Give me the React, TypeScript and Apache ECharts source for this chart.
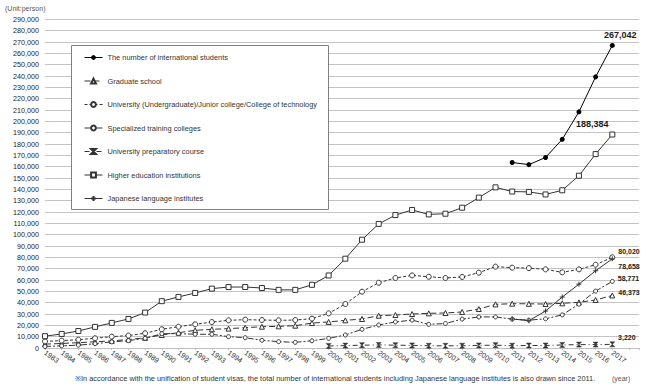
import React, { useEffect, useRef } from 'react';
import * as echarts from 'echarts';

const years = [1983, 1984, 1985, 1986, 1987, 1988, 1989, 1990, 1991, 1992, 1993, 1994, 1995, 1996, 1997, 1998, 1999, 2000, 2001, 2002, 2003, 2004, 2005, 2006, 2007, 2008, 2009, 2010, 2011, 2012, 2013, 2014, 2015, 2016, 2017];

const totalStudents = [null, null, null, null, null, null, null, null, null, null, null, null, null, null, null, null, null, null, null, null, null, null, null, null, null, null, null, null, 163697, 161848, 168145, 184155, 208379, 239287, 267042];
const graduateSchool = [3400, 4000, 4700, 5500, 6300, 7500, 9000, 11500, 13500, 15600, 16500, 17100, 17900, 18800, 19100, 19700, 22000, 23000, 24400, 25600, 28500, 29100, 30000, 30600, 30900, 31800, 34400, 38500, 39100, 39000, 38800, 39400, 40300, 42400, 46373];
const university = [5800, 6500, 7300, 8600, 10000, 11000, 13000, 16500, 18800, 20900, 22900, 24400, 25000, 24700, 24400, 24700, 25900, 30600, 38800, 49700, 57600, 61800, 64100, 62900, 61800, 62700, 66500, 71800, 70900, 70500, 69400, 66800, 69400, 73500, 80020];
const specialized = [1300, 1900, 2500, 3800, 5400, 6500, 8500, 12600, 12700, 12100, 12100, 10000, 9100, 6800, 5600, 5000, 6400, 8500, 11500, 16500, 20300, 23000, 24600, 20900, 21600, 25500, 27400, 27400, 25463, 24586, 25753, 29227, 38654, 50235, 58771];
const preparatory = [null, null, null, null, null, null, null, null, null, null, null, null, null, null, null, null, null, 1800, 2100, 2500, 2700, 2500, 2300, 2000, 1900, 2000, 2300, 2500, 2000, 2200, 2200, 2700, 3000, 3000, 3220];
const higherEducation = [10428, 12410, 15009, 18631, 22154, 25643, 31251, 41347, 45066, 48561, 52405, 53787, 53847, 52921, 51298, 51298, 55755, 64011, 78812, 95550, 109508, 117302, 121812, 117927, 118498, 123829, 132720, 141774, 138075, 137756, 135519, 139185, 152062, 171122, 188384];
const japaneseLanguage = [null, null, null, null, null, null, null, null, null, null, null, null, null, null, null, null, null, null, null, null, null, null, null, null, null, null, null, null, 25622, 24092, 32626, 44970, 56317, 68165, 78658];

const seriesNames = [
  'The number of international students',
  'Graduate school',
  'University (Undergraduate)/Junior college/College of technology',
  'Specialized training colleges',
  'University preparatory course',
  'Higher education institutions',
  'Japanese language institutes',
];

const footnote = '※In accordance with the unification of student visas, the total number of international students including Japanese language institutes is also drawn since 2011.';

const FONT = '"Liberation Sans", Arial, sans-serif';
const fmt = (v: number) => v.toLocaleString('en-US');

function buildData(vals: (number | null)[], lastLabel: any) {
  const pts: any[] = [];
  vals.forEach((v, i) => {
    if (v != null) pts.push({ value: [years[i], v] });
  });
  if (lastLabel && pts.length) {
    const last = pts[pts.length - 1];
    last.label = {
      show: true,
      formatter: () => fmt(last.value[1]),
      fontFamily: FONT,
      fontWeight: 'bold',
      color: '#1a1a1a',
      ...lastLabel,
    };
  }
  return pts;
}

export default function App() {
  const ref = useRef<HTMLDivElement>(null);
  useEffect(() => {
    if (!ref.current) return;
    const chart = echarts.init(ref.current, undefined, { renderer: 'svg' });
    const dark = '#333333';
    const hollow = (c: string) => ({ color: '#ffffff', borderColor: c, borderWidth: 1 });
    const smallLbl = { position: 'right', distance: 3, fontSize: 7 };
    const option: any = {
      animation: false,
      backgroundColor: '#ffffff',
      textStyle: { fontFamily: FONT },
      grid: { left: 45, right: 11, top: 19.4, bottom: 39, containLabel: false },
      legend: {
        orient: 'vertical',
        left: 84,
        top: 54,
        z: 10,
        itemWidth: 18,
        itemHeight: 6,
        itemGap: 16.5,
        selectedMode: false,
        padding: 0,
        data: seriesNames,
        lineStyle: { width: 1 },
        textStyle: { fontSize: 7.4, color: '#333', fontFamily: FONT, lineHeight: 6 },
      },
      graphic: [
        {
          type: 'rect',
          left: 71,
          top: 45,
          z: 3,
          shape: { width: 257, height: 164 },
          style: { fill: '#ffffff', stroke: '#808080', lineWidth: 1 },
        },
        {
          type: 'text',
          left: 5,
          top: 5,
          style: { text: '(Unit:person)', fontSize: 7, fill: '#555', fontFamily: FONT },
        },
        {
          type: 'text',
          left: 75,
          top: 375,
          style: { text: footnote, fontSize: 7.4, fill: '#333', fontFamily: FONT },
        },
        {
          type: 'text',
          left: 612,
          top: 375,
          style: { text: '(year)', fontSize: 7, fill: '#555', fontFamily: FONT },
        },
      ],
      xAxis: {
        type: 'value',
        min: 1983,
        max: 2018.6,
        interval: 1,
        splitLine: { show: false },
        axisLine: { show: true, lineStyle: { color: '#bfbfbf' } },
        axisTick: { show: true, length: 2, lineStyle: { color: '#bfbfbf' } },
        axisLabel: {
          rotate: -35,
          fontSize: 7.2,
          color: '#333',
          margin: 4,
          fontFamily: FONT,
          formatter: (v: number) => (Number.isInteger(v) && v <= 2017 ? String(v) : ''),
        },
      },
      yAxis: {
        type: 'value',
        min: 0,
        max: 290000,
        interval: 10000,
        axisLine: { show: false },
        axisTick: { show: false },
        splitLine: { show: true, lineStyle: { color: '#c4c4c4', width: 1 } },
        axisLabel: { fontSize: 7.2, color: '#222', margin: 6, fontFamily: FONT, formatter: (v: number) => fmt(v) },
      },
      series: [
        {
          name: seriesNames[1],
          type: 'line',
          data: buildData(graduateSchool, { ...smallLbl, offset: [0, -3] }),
          symbol: 'triangle',
          symbolSize: 5,
          itemStyle: hollow(dark),
          lineStyle: { color: dark, width: 1, type: [6, 3] },
        },
        {
          name: seriesNames[2],
          type: 'line',
          data: buildData(university, { ...smallLbl, offset: [0, -6] }),
          symbol: 'circle',
          symbolSize: 5,
          itemStyle: hollow(dark),
          lineStyle: { color: dark, width: 1, type: [3, 2] },
        },
        {
          name: seriesNames[3],
          type: 'line',
          data: buildData(specialized, { ...smallLbl, offset: [0, -3] }),
          symbol: 'circle',
          symbolSize: 4,
          itemStyle: hollow(dark),
          lineStyle: { color: dark, width: 1, type: [6, 2, 2, 2] },
        },
        {
          name: seriesNames[4],
          type: 'line',
          data: buildData(preparatory, { ...smallLbl, offset: [0, -7] }),
          symbol: 'path://M0,0L10,0L0,10L10,10Z',
          symbolSize: 5,
          itemStyle: { color: dark, borderColor: dark, borderWidth: 0.5 },
          lineStyle: { color: dark, width: 1, type: [5, 3, 1, 3] },
        },
        {
          name: seriesNames[5],
          type: 'line',
          data: buildData(higherEducation, { position: 'top', distance: 3, fontSize: 9, offset: [-20, 0] }),
          symbol: 'rect',
          symbolSize: 5,
          itemStyle: hollow(dark),
          lineStyle: { color: dark, width: 1 },
        },
        {
          name: seriesNames[6],
          type: 'line',
          data: buildData(japaneseLanguage, { ...smallLbl, offset: [0, 8] }),
          symbol: 'path://M5,0L5,10M0,5L10,5',
          symbolSize: 5,
          itemStyle: { color: dark, borderColor: dark, borderWidth: 1 },
          lineStyle: { color: dark, width: 1 },
        },
        {
          name: seriesNames[0],
          type: 'line',
          z: 5,
          data: buildData(totalStudents, { position: 'top', distance: 3, fontSize: 9, offset: [8, 0] }),
          symbol: 'circle',
          symbolSize: 5,
          itemStyle: { color: '#000', borderColor: '#000', borderWidth: 0 },
          lineStyle: { color: '#000', width: 1 },
        },
      ],
    };
    chart.setOption(option);
    return () => chart.dispose();
  }, []);
  return <div ref={ref} style={{ position: 'absolute', left: 0, top: 0, width: 650, height: 387 }} />;
}
